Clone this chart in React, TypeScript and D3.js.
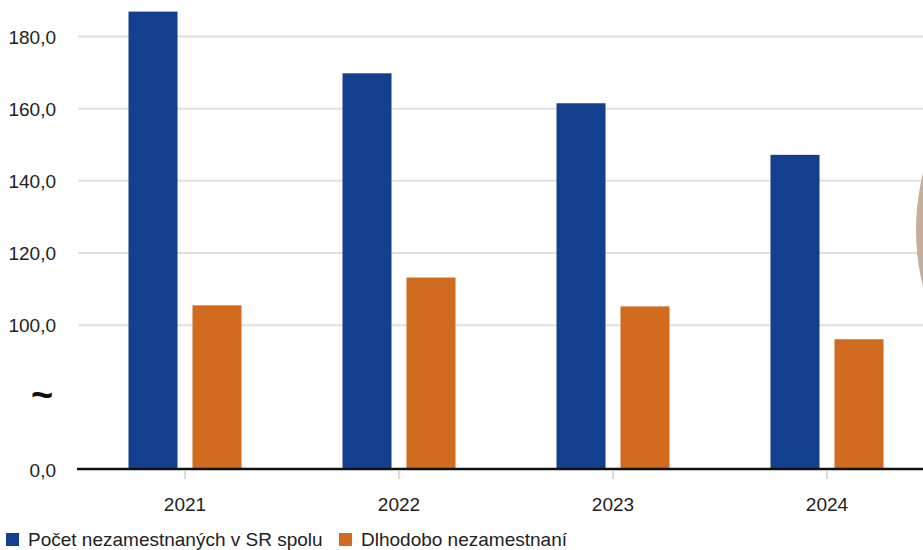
import React, { useEffect, useRef } from "react";
import * as d3 from "d3";

// Údaje v tisícoch
const years = ["2021", "2022", "2023", "2024"];
const seriesNames = ["Počet nezamestnaných v SR spolu", "Dlhodobo nezamestnaní"];
const totalUnemployed = [186.9, 169.8, 161.5, 147.2];
const longTermUnemployed = [105.5, 113.2, 105.2, 96.1];
const yTicks = [100, 120, 140, 160, 180];
const yBase = 60; // skrytý začiatok osi, označený ako 0,0

const colors = ["#133f8e", "#d06b1f"];

const App: React.FC = () => {
    const svgRef = useRef<SVGSVGElement | null>(null);

    useEffect(() => {
        if (!svgRef.current) return;
        const width = 923;
        const height = 550;
        const font = "'Liberation Sans', Arial, sans-serif";

        const svg = d3.select(svgRef.current);
        svg.selectAll("*").remove();
        svg.attr("width", width).attr("height", height);

        const y = d3.scaleLinear().domain([yBase, 180]).range([469.5, 36.5]);
        const x = d3.scaleBand<string>().domain(years).range([78, 934]).padding(0);
        const groupW = 113;
        const xs = d3.scaleBand<number>().domain([0, 1]).range([0, groupW]).paddingInner(0.234).paddingOuter(0);
        const offset = (x.bandwidth() - groupW) / 2;

        // mriežka
        svg.append("g")
            .selectAll("line")
            .data(yTicks)
            .enter()
            .append("line")
            .attr("x1", 78).attr("x2", width)
            .attr("y1", (d) => y(d)).attr("y2", (d) => y(d))
            .attr("stroke", "#e0e0e0")
            .attr("stroke-width", 2);

        // dekorácia vpravo (orezaný kruh)
        svg.append("circle")
            .attr("cx", 1151).attr("cy", 230).attr("r", 235)
            .attr("fill", "#c6ae9f");

        // popisy osi Y
        const fmt = (d: number) => d3.format(".1f")(d).replace(".", ",");
        svg.append("g")
            .selectAll("text")
            .data([yBase, ...yTicks])
            .enter()
            .append("text")
            .attr("x", 56)
            .attr("y", (d) => y(d) + 7)
            .attr("text-anchor", "end")
            .attr("font-family", font)
            .attr("font-size", 19)
            .attr("fill", "#222")
            .text((d) => (d === yBase ? "0,0" : fmt(d)));

        svg.append("text")
            .attr("x", 42)
            .attr("y", y(80) + 11)
            .attr("text-anchor", "middle")
            .attr("font-family", font)
            .attr("font-size", 38)
            .attr("font-weight", "bold")
            .attr("fill", "#111")
            .text("~");

        // stĺpce
        const values = [totalUnemployed, longTermUnemployed];
        values.forEach((vals, si) => {
            svg.append("g")
                .selectAll("rect")
                .data(vals)
                .enter()
                .append("rect")
                .attr("x", (_, i) => (x(years[i]) as number) + offset + (xs(si) as number))
                .attr("y", (d) => y(d))
                .attr("width", xs.bandwidth())
                .attr("height", (d) => y(yBase) - y(d))
                .attr("fill", colors[si]);
        });

        // os X
        svg.append("line")
            .attr("x1", 77).attr("x2", width)
            .attr("y1", 469).attr("y2", 469)
            .attr("stroke", "#111")
            .attr("stroke-width", 2.5);

        svg.append("g")
            .selectAll("line")
            .data(years)
            .enter()
            .append("line")
            .attr("x1", (d) => (x(d) as number) + x.bandwidth() / 2)
            .attr("x2", (d) => (x(d) as number) + x.bandwidth() / 2)
            .attr("y1", 471).attr("y2", 479)
            .attr("stroke", "#d0d0d0")
            .attr("stroke-width", 1.5);

        svg.append("g")
            .selectAll("text")
            .data(years)
            .enter()
            .append("text")
            .attr("x", (d) => (x(d) as number) + x.bandwidth() / 2)
            .attr("y", 511)
            .attr("text-anchor", "middle")
            .attr("font-family", font)
            .attr("font-size", 19)
            .attr("fill", "#222")
            .text((d) => d);

        // legenda
        const legendX = [6, 339];
        const legend = svg.append("g");
        seriesNames.forEach((name, i) => {
            legend.append("rect")
                .attr("x", legendX[i]).attr("y", 533)
                .attr("width", 13).attr("height", 13)
                .attr("fill", colors[i]);
            legend.append("text")
                .attr("x", legendX[i] + 22)
                .attr("y", 546)
                .attr("font-family", font)
                .attr("font-size", 19)
                .attr("fill", "#222")
                .text(name);
        });
    }, []);

    return (
        <svg ref={svgRef} style={{ position: "absolute", left: 0, top: 0, background: "#fff" }}></svg>
    );
};

export default App;
